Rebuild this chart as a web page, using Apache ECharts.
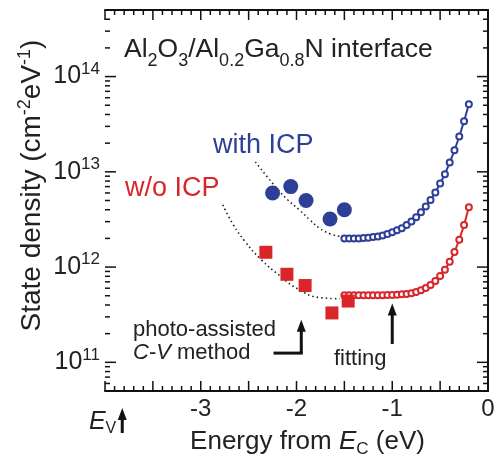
<!DOCTYPE html>
<html>
<head>
<meta charset="utf-8">
<script src="https://cdn.jsdelivr.net/npm/echarts@6/dist/echarts.min.js"></script>
<style>
  body { margin: 0; background: #fff; }
  #main { width: 498px; height: 463px; }
</style>
</head>
<body>
<div id="main"></div>
<script>
// photo-assisted C-V points
const pacEnergyWith = [-2.25, -2.06, -1.90, -1.65, -1.50];
const pacDensityWith = [6.0e12, 7.0e12, 5.0e12, 3.2e12, 4.0e12];
const pacEnergyWo = [-2.32, -2.10, -1.91, -1.63, -1.46];
const pacDensityWo = [1.43e12, 8.4e11, 6.4e11, 3.3e11, 4.4e11];

// fitting curves (open circles)
const fitEnergy = [-1.50, -1.45, -1.40, -1.35, -1.30, -1.25, -1.20, -1.15, -1.10, -1.05,
  -1.00, -0.95, -0.90, -0.85, -0.80, -0.75, -0.70, -0.65, -0.60, -0.55,
  -0.50, -0.45, -0.40, -0.35, -0.30, -0.25, -0.20];
const fitWith = [1.99e12, 1.99e12, 2.00e12, 2.00e12, 2.02e12, 2.03e12, 2.07e12, 2.10e12, 2.15e12, 2.22e12,
  2.32e12, 2.43e12, 2.56e12, 2.76e12, 3.01e12, 3.34e12, 3.77e12, 4.32e12, 5.06e12, 6.08e12,
  7.55e12, 9.44e12, 1.25e13, 1.68e13, 2.35e13, 3.40e13, 5.11e13];
const fitWo = [5.05e11, 5.05e11, 5.05e11, 5.05e11, 5.05e11, 5.05e11, 5.06e11, 5.06e11, 5.07e11, 5.08e11,
  5.10e11, 5.13e11, 5.17e11, 5.22e11, 5.31e11, 5.49e11, 5.70e11, 6.04e11, 6.50e11, 7.14e11,
  8.05e11, 9.37e11, 1.14e12, 1.44e12, 1.94e12, 2.76e12, 4.25e12];

// dotted guide curves
const guideWithE = [-2.43, -2.19, -2.09, -1.97, -1.86, -1.76, -1.65, -1.55];
const guideWithD = [1.27e13, 6.43e12, 5.06e12, 3.98e12, 3.13e12, 2.56e12, 2.24e12, 2.10e12];
const guideWoE = [-2.77, -2.66, -2.54, -2.37, -2.17, -1.98, -1.76, -1.55];
const guideWoD = [4.49e12, 2.78e12, 1.87e12, 1.20e12, 8.05e11, 5.85e11, 4.79e11, 4.65e11];

const xTickLabels = [-3, -2, -1, 0];

const BLUE = '#2e3f98';
const RED = '#d8262b';
const FONT = 'Liberation Sans';
const X_MIN = -4, X_MAX = 0, Y_MIN = 5e10, Y_MAX = 5e14;

const zip = (a, b) => a.map((v, i) => [v, b[i]]);

// tick marks (drawn inward on all four sides)
const xTicks = [];
for (let i = -40; i <= 0; i++) xTicks.push([i / 10, Y_MIN, i % 5 === 0 ? 10 : 5]);
const yTicks = [];
for (let n = 10; n <= 14; n++) {
  for (let k = 1; k <= 9; k++) {
    const v = k * Math.pow(10, n);
    if (v > Y_MIN && v < Y_MAX) yTicks.push([X_MIN, v, k === 1 ? 11 : 5]);
  }
}
const tickStyle = { stroke: '#111', lineWidth: 1.5 };

const option = {
  animation: false,
  textStyle: { fontFamily: FONT },
  grid: { left: 105, right: 10, top: 10, bottom: 69 },
  xAxis: [
    {
      type: 'value', min: X_MIN, max: X_MAX, interval: 0.5, position: 'bottom',
      axisLine: { onZero: false, lineStyle: { color: '#111', width: 2 } },
      axisTick: { show: false }, splitLine: { show: false },
      name: 'Energy from {i|E}{s|C} (eV)',
      nameLocation: 'middle', nameGap: 34,
      nameTextStyle: {
        fontSize: 26, color: '#222', fontFamily: FONT, padding: [0, 0, 0, 22],
        rich: {
          i: { fontSize: 26, fontStyle: 'italic', color: '#222', fontFamily: FONT },
          s: { fontSize: 17, color: '#222', fontFamily: FONT, padding: [16, 0, 0, 0] }
        }
      },
      axisLabel: {
        fontSize: 24, color: '#222', margin: 6, fontFamily: FONT,
        formatter: v => xTickLabels.includes(v) ? String(v) : ''
      }
    },
    {
      type: 'value', min: X_MIN, max: X_MAX, position: 'top',
      axisLine: { onZero: false, lineStyle: { color: '#111', width: 2 } },
      axisTick: { show: false }, axisLabel: { show: false }, splitLine: { show: false }
    }
  ],
  yAxis: [
    {
      type: 'log', logBase: 10, min: Y_MIN, max: Y_MAX, position: 'left',
      axisLine: { lineStyle: { color: '#111', width: 2 } },
      axisTick: { show: false }, splitLine: { show: false },
      name: 'State density (cm{p|-2}eV{p|-1})',
      nameLocation: 'middle', nameGap: 56, nameRotate: 90, nameMoveOverlap: false,
      nameTextStyle: {
        fontSize: 28, color: '#222', fontFamily: FONT, padding: [0, 0, 0, 30],
        rich: {
          p: { fontSize: 18, color: '#222', fontFamily: FONT, padding: [0, 0, 15, 0] }
        }
      },
      axisLabel: {
        margin: 5, color: '#222', fontFamily: FONT, padding: [0, 0, 8, 0],
        formatter: v => {
          const e = Math.log10(v);
          if (Math.abs(e - Math.round(e)) > 1e-6) return '';
          return '{b|10}{p|' + Math.round(e) + '}';
        },
        rich: {
          b: { fontSize: 25, color: '#222', fontFamily: FONT, padding: [8, 0, 0, 0] },
          p: { fontSize: 17, color: '#222', fontFamily: FONT, padding: [0, 0, 7, 0] }
        }
      }
    },
    {
      type: 'log', logBase: 10, min: Y_MIN, max: Y_MAX, position: 'right',
      axisLine: { lineStyle: { color: '#111', width: 2 } },
      axisTick: { show: false }, axisLabel: { show: false }, splitLine: { show: false }
    }
  ],
  series: [
    {
      type: 'custom', data: xTicks, silent: true, z: 5,
      renderItem: (params, api) => {
        const x = api.value(0), len = api.value(2);
        const b = api.coord([x, Y_MIN]), t = api.coord([x, Y_MAX]);
        return {
          type: 'group', children: [
            { type: 'line', shape: { x1: b[0], y1: b[1], x2: b[0], y2: b[1] - len }, style: tickStyle },
            { type: 'line', shape: { x1: t[0], y1: t[1], x2: t[0], y2: t[1] + len }, style: tickStyle }
          ]
        };
      }
    },
    {
      type: 'custom', data: yTicks, silent: true, z: 5,
      renderItem: (params, api) => {
        const y = api.value(1), len = api.value(2);
        const l = api.coord([X_MIN, y]), r = api.coord([X_MAX, y]);
        return {
          type: 'group', children: [
            { type: 'line', shape: { x1: l[0], y1: l[1], x2: l[0] + len, y2: l[1] }, style: tickStyle },
            { type: 'line', shape: { x1: r[0], y1: r[1], x2: r[0] - len, y2: r[1] }, style: tickStyle }
          ]
        };
      }
    },
    {
      type: 'line', data: zip(guideWithE, guideWithD), smooth: true, symbol: 'none',
      lineStyle: { color: '#222', width: 1.6, type: [1.5, 3] }, z: 1
    },
    {
      type: 'line', data: zip(guideWoE, guideWoD), smooth: true, symbol: 'none',
      lineStyle: { color: '#222', width: 1.6, type: [1.5, 3] }, z: 1
    },
    {
      type: 'line', data: zip(fitEnergy, fitWith), symbol: 'emptyCircle', symbolSize: 6,
      showAllSymbol: true,
      lineStyle: { color: BLUE, width: 2 }, itemStyle: { color: BLUE, borderWidth: 1 }, z: 2
    },
    {
      type: 'line', data: zip(fitEnergy, fitWo), symbol: 'emptyCircle', symbolSize: 6,
      showAllSymbol: true,
      lineStyle: { color: RED, width: 2 }, itemStyle: { color: RED, borderWidth: 1 }, z: 2
    },
    {
      type: 'scatter', data: zip(pacEnergyWith, pacDensityWith), symbol: 'circle', symbolSize: 15,
      itemStyle: { color: BLUE, opacity: 1 }, z: 3
    },
    {
      type: 'scatter', data: zip(pacEnergyWo, pacDensityWo), symbol: 'rect', symbolSize: 13,
      itemStyle: { color: RED, opacity: 1 }, z: 3
    }
  ]
};

const chart = echarts.init(document.getElementById('main'));
chart.setOption(option);

// annotations placed through the axes
const px = (x, y) => chart.convertToPixel({ gridIndex: 0 }, [x, y]);
const AR = '#111';
function arrow(x1, y1, x2, y2) {
  const head = 12, half = 4.5;
  const up = y2 < y1 ? 1 : -1;
  return [
    { type: 'line', shape: { x1: x1, y1: y1, x2: x2, y2: y2 + up * head * 0.6 }, style: { stroke: AR, lineWidth: 3 } },
    { type: 'polygon', shape: { points: [[x2, y2], [x2 - half, y2 + up * head], [x2 + half, y2 + up * head]] }, style: { fill: AR } }
  ];
}
const bottomY = px(0, Y_MIN)[1];
const evX = px(-3.82, 1e11)[0];
const pacTop = px(-1.95, 2.8e11);
const pacBot = px(-1.95, 1.25e11);
const pacLeft = px(-2.24, 1.25e11);
const fitTop = px(-1.0, 4.15e11);
const fitBot = px(-1.0, 1.56e11);

const sub = (fs, pad) => ({ fontSize: fs, fill: '#222', fontFamily: FONT, padding: [pad, 0, 0, 0] });

let g = [];
g = g.concat(arrow(evX, bottomY + 42, evX, bottomY + 17));
g = g.concat(arrow(pacBot[0], pacBot[1], pacTop[0], pacTop[1]));
g.push({ type: 'line', shape: { x1: pacLeft[0], y1: pacLeft[1], x2: pacBot[0] + 1.5, y2: pacBot[1] }, style: { stroke: AR, lineWidth: 3 } });
g = g.concat(arrow(fitBot[0], fitBot[1], fitTop[0], fitTop[1]));
g.push(
  {
    type: 'text', x: evX - 6, y: bottomY + 31,
    style: {
      text: '{i|E}{s|V}', align: 'right', verticalAlign: 'middle',
      rich: { i: { fontSize: 25, fontStyle: 'italic', fill: '#222', fontFamily: FONT }, s: sub(16, 14) }
    }
  },
  {
    type: 'text', left: 124, top: 36,
    style: {
      text: 'Al{s|2}O{s|3}/Al{s|0.2}Ga{s|0.8}N interface',
      fontSize: 26.5, fill: '#222', fontFamily: FONT,
      rich: { s: sub(18, 24) }
    }
  },
  { type: 'text', left: 213, top: 132, style: { text: 'with ICP', fontSize: 27, fill: BLUE, fontFamily: FONT } },
  { type: 'text', left: 125, top: 175, style: { text: 'w/o ICP', fontSize: 27, fill: RED, fontFamily: FONT } },
  {
    type: 'text', left: 133, top: 318,
    style: {
      text: 'photo-assisted\n{i|C}-{i|V} method', fontSize: 22, lineHeight: 23, fill: '#222', fontFamily: FONT,
      rich: { i: { fontSize: 22, fontStyle: 'italic', fill: '#222', fontFamily: FONT } }
    }
  },
  {
    type: 'text', x: fitBot[0] - 32, y: fitBot[1] + 15,
    style: { text: 'fitting', fontSize: 22, fill: '#222', fontFamily: FONT, align: 'center', verticalAlign: 'middle' }
  }
);
chart.setOption({ graphic: g });
</script>
</body>
</html>
